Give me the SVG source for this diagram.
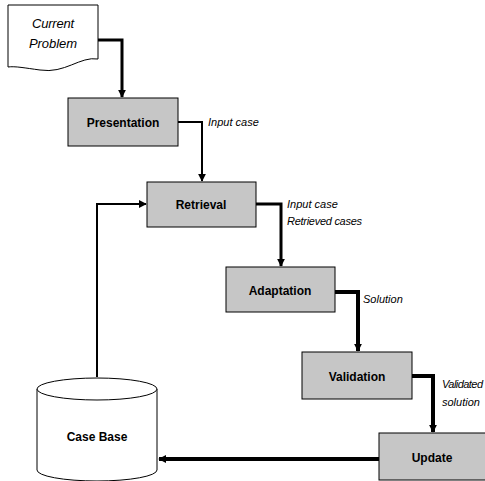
<svg xmlns="http://www.w3.org/2000/svg" width="485" height="481" viewBox="0 0 485 481">
<style>
.box{fill:#c6c6c6;stroke:#000;stroke-width:1}
.lbl{font-family:"Liberation Sans",Arial,sans-serif;font-size:12px;font-weight:bold;text-anchor:middle;fill:#000}
.it{font-family:"Liberation Sans",Arial,sans-serif;font-size:11px;font-style:italic;fill:#000}
.big{font-size:13px;text-anchor:middle}
.c{fill:none;stroke:#000}
</style>
<defs>
<marker id="ah" viewBox="0 0 10 10" refX="9" refY="5" markerWidth="8" markerHeight="8" markerUnits="userSpaceOnUse" orient="auto"><path d="M0,0 L10,5 L0,10 Z" fill="#000"/></marker>
</defs>
<rect width="485" height="481" fill="#fff"/>
<g id="connectors">
<path class="c" d="M98,40 H122 V97" stroke-width="3" marker-end="url(#ah)"/>
<path class="c" d="M178,122 H202 V181" stroke-width="2" marker-end="url(#ah)"/>
<path class="c" d="M256,204 H281 V266" stroke-width="3" marker-end="url(#ah)"/>
<path class="c" d="M335,292 H358 V351" stroke-width="4" marker-end="url(#ah)"/>
<path class="c" d="M412,376 H433 V432" stroke-width="4" marker-end="url(#ah)"/>
<path class="c" d="M379,459 H159" stroke-width="4" marker-end="url(#ah)"/>
<path class="c" d="M97,377 V204 H146" stroke-width="2" marker-end="url(#ah)"/>
</g>
<g id="current-problem">
<path d="M8,5 H98 V59 C80,56 65,74 40,70 C25,68 15,66 8,67 Z" fill="#fff" stroke="#000" stroke-width="1"/>
<text class="it big" x="53" y="28" textLength="42">Current</text>
<text class="it big" x="53" y="48" textLength="48">Problem</text>
</g>
<g id="presentation">
<rect class="box" x="68" y="98" width="110" height="48"/>
<text class="lbl" x="123" y="127">Presentation</text>
</g>
<text class="it" x="208" y="126">Input case</text>
<g id="retrieval">
<rect class="box" x="147" y="182" width="109" height="45"/>
<text class="lbl" x="201" y="209">Retrieval</text>
</g>
<text class="it" x="287" y="208">Input case</text>
<text class="it" x="287" y="225" textLength="75">Retrieved cases</text>
<g id="adaptation">
<rect class="box" x="226" y="267" width="109" height="45"/>
<text class="lbl" x="280" y="295">Adaptation</text>
</g>
<text class="it" x="363" y="303">Solution</text>
<g id="validation">
<rect class="box" x="302" y="352" width="110" height="47"/>
<text class="lbl" x="357" y="381">Validation</text>
</g>
<text class="it" x="442" y="388" textLength="41">Validated</text>
<text class="it" x="442" y="406">solution</text>
<g id="update">
<rect class="box" x="379" y="433" width="110" height="47"/>
<text class="lbl" x="432" y="462">Update</text>
</g>
<g id="case-base">
<path d="M37,389 V470 A60,11 0 0 0 157,470 V389" fill="#fff" stroke="#000" stroke-width="1"/>
<ellipse cx="97" cy="389" rx="60" ry="11" fill="#fff" stroke="#000" stroke-width="1"/>
<text class="lbl" x="97" y="441">Case Base</text>
</g>
</svg>
